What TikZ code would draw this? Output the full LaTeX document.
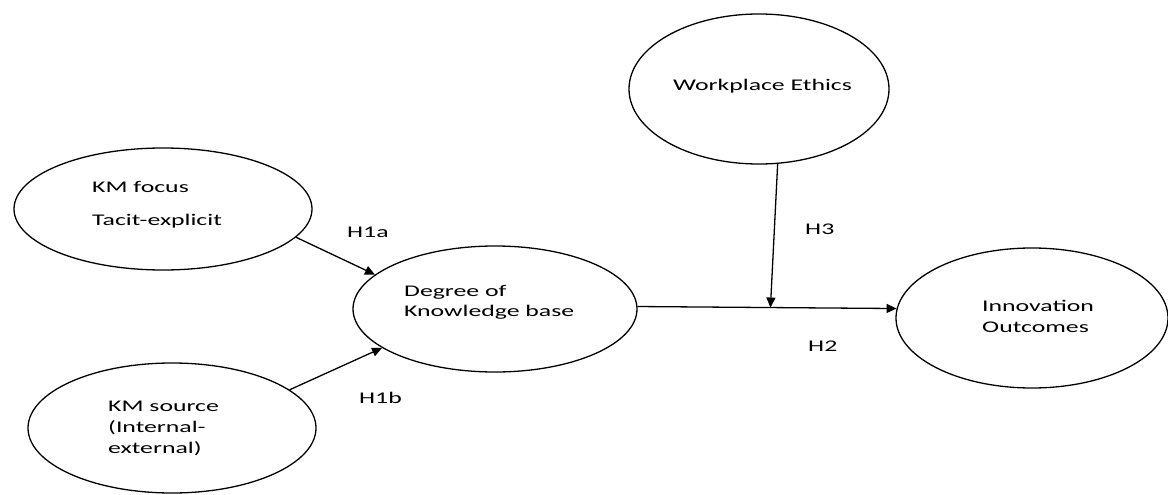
\documentclass[tikz,border=0pt]{standalone}
\usepackage{fontspec}
\setmainfont{Carlito}
\usetikzlibrary{arrows.meta,calc,shapes.geometric}
\newcommand{\stretchtxt}[1]{\scalebox{1.58}[1]{#1}}
\tikzset{
  oval/.style={draw, ellipse, line width=1.3pt, inner sep=0pt},
  lbl/.style={anchor=base west, inner sep=0pt, font=\fontsize{16.3}{19}\selectfont},
  link/.style={line width=1.3pt, -{Triangle[length=10pt,width=9pt]}}
}
\begin{document}
\begin{tikzpicture}[x=1pt,y=-1pt]
\useasboundingbox (0,0) rectangle (1168,495);
% ellipses
\node[oval, minimum width=298pt, minimum height=122pt] (kmf) at (163,209) {};
\node[oval, minimum width=288pt, minimum height=130pt] (kms) at (172,428) {};
\node[oval, minimum width=284pt, minimum height=126pt] (deg) at (495,309) {};
\node[oval, minimum width=260pt, minimum height=150pt] (we) at (759,89) {};
\node[oval, minimum width=272pt, minimum height=140pt] (inno) at (1032,318) {};
% texts
\node[lbl] (t1) at (92,192) {\stretchtxt{KM focus}};
\node[lbl] (t2) at (92,225) {\stretchtxt{Tacit-explicit}};
\node[lbl] (t3) at (108,411) {\stretchtxt{KM source}};
\node[lbl] (t4) at (108,432) {\stretchtxt{(Internal-}};
\node[lbl] (t5) at (108,453) {\stretchtxt{external)}};
\node[lbl] (t6) at (404,296) {\stretchtxt{Degree of}};
\node[lbl] (t7) at (404,316) {\stretchtxt{Knowledge base}};
\node[lbl] (t8) at (673,91) {\stretchtxt{Workplace Ethics}};
\node[lbl] (t9) at (982,311) {\stretchtxt{Innovation}};
\node[lbl] (t10) at (982,332) {\stretchtxt{Outcomes}};
\node[lbl] (h1a) at (347,237) {\stretchtxt{H1a}};
\node[lbl] (h1b) at (359,403) {\stretchtxt{H1b}};
\node[lbl] (h3) at (805,234) {\stretchtxt{H3}};
\node[lbl] (h2) at (808,351) {\stretchtxt{H2}};
% connectors
\draw[link] (kmf.-12) -- (deg.164);
\draw[link] (kms.18) -- (deg.199);
\draw[link] (deg.1) -- (inno.176);
\coordinate (mid) at ($(deg.1)!0.513!(inno.176)$);
\draw[link] (we.-76) -- (mid);
\end{tikzpicture}
\end{document}
